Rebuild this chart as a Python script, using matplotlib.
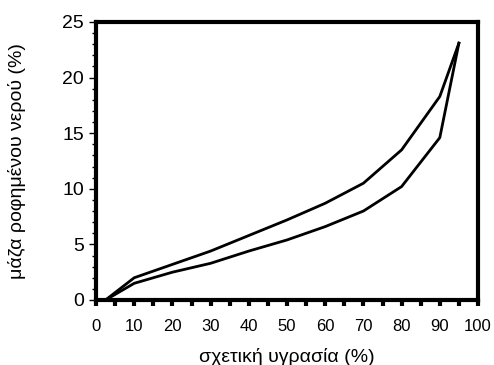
import numpy as np
import matplotlib
matplotlib.use('Agg')
import matplotlib.pyplot as plt
from matplotlib.ticker import MultipleLocator

plt.rcParams['font.family'] = ['Liberation Sans', 'DejaVu Sans']

rh = [2.5, 10, 20, 30, 40, 50, 60, 70, 80, 90, 95]
upper = [0, 2.0, 3.2, 4.4, 5.8, 7.2, 8.7, 10.5, 13.5, 18.3, 23.1]
lower = [0, 1.5, 2.5, 3.3, 4.4, 5.4, 6.6, 8.0, 10.2, 14.6, 23.1]

fig = plt.figure(figsize=(4.94, 3.65), dpi=100)
ax = fig.add_axes([96/494, 1 - 300/365, (478-96)/494, (300-22)/365])

ax.plot(rh, upper, color='black', lw=2)
ax.plot(rh, lower, color='black', lw=2)

ax.set_xlim(0, 100)
ax.set_ylim(0, 25)
ax.xaxis.set_major_locator(MultipleLocator(10))
ax.xaxis.set_minor_locator(MultipleLocator(5))
ax.yaxis.set_major_locator(MultipleLocator(5))
ax.yaxis.set_minor_locator(MultipleLocator(1))

for s in ax.spines.values():
    s.set_linewidth(3)
ax.tick_params(axis='x', which='both', direction='out', length=4, width=3, labelsize=12, pad=10)
ax.tick_params(axis='y', which='major', direction='out', length=5, width=1, labelsize=14)
ax.tick_params(axis='y', which='minor', direction='out', length=3, width=1)

ax.set_xlabel('σχετική υγρασία (%)', fontsize=14, labelpad=10)
ax.set_ylabel('μάζα ροφημένου νερού (%)', fontsize=14, labelpad=26)

fig.savefig('out.png', dpi=100)
